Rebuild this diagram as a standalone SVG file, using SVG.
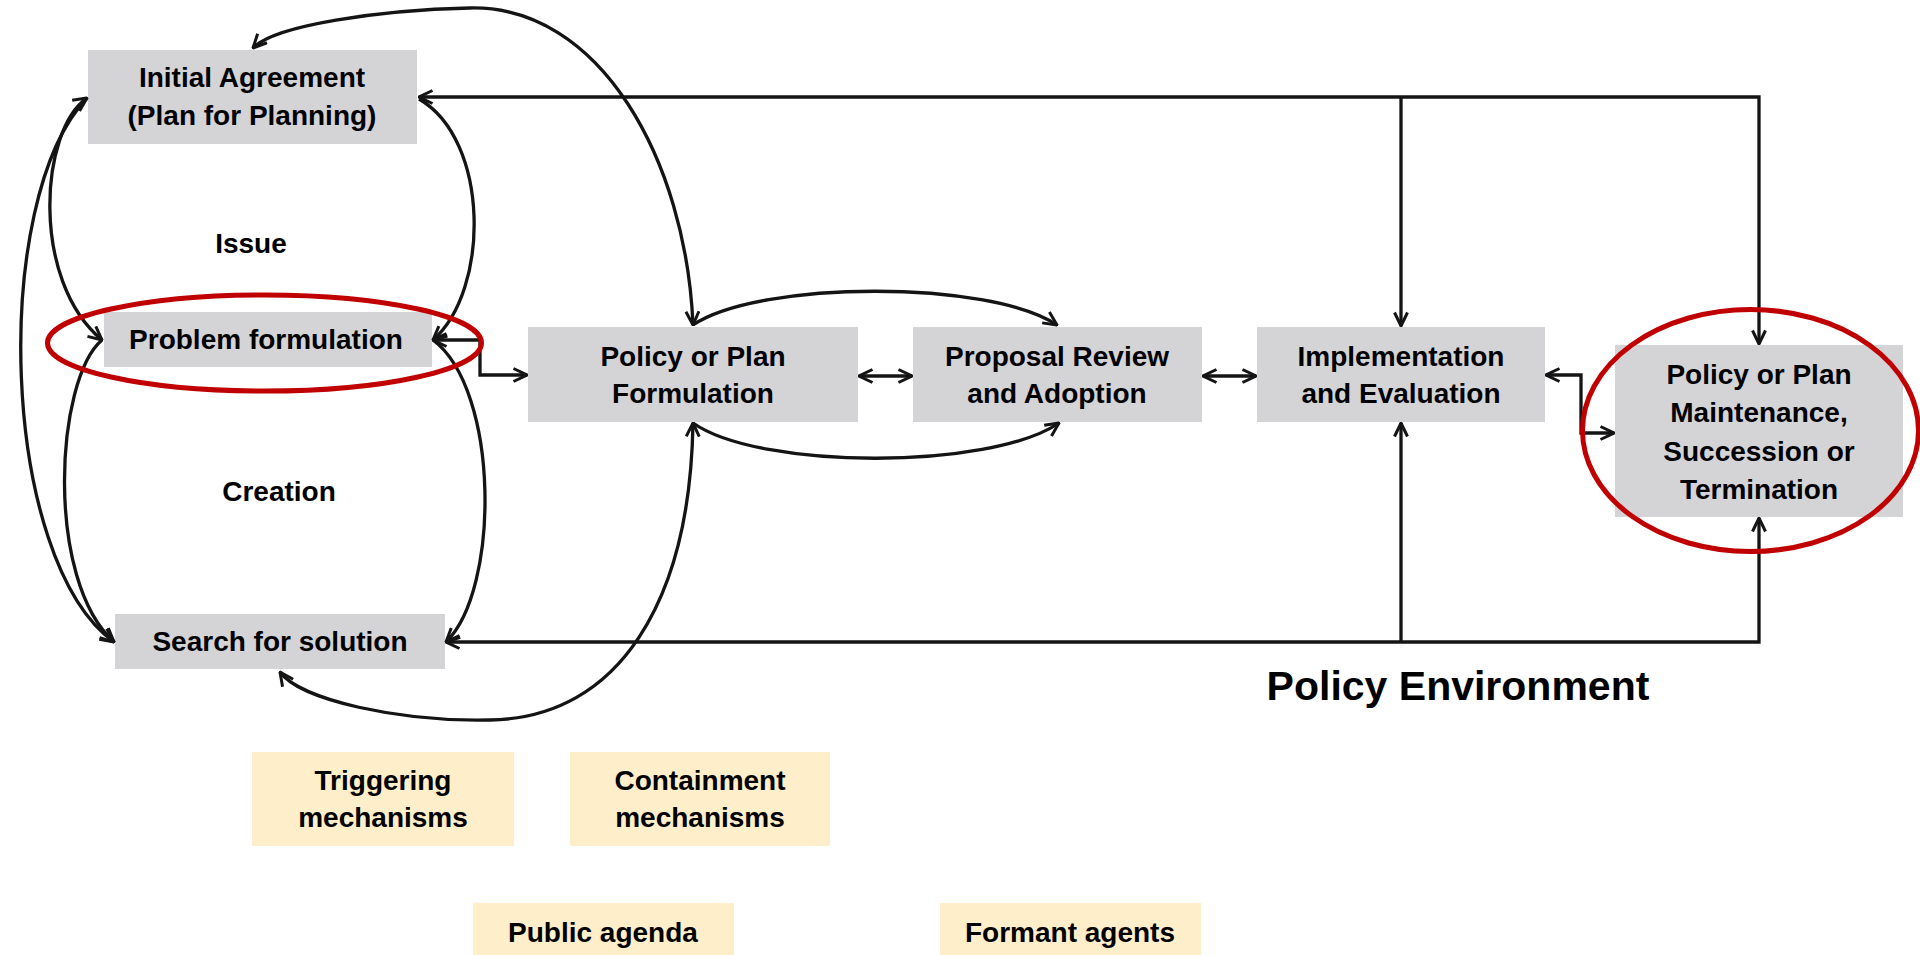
<svg xmlns="http://www.w3.org/2000/svg" width="1920" height="955" viewBox="0 0 1920 955">
<style>
.box{fill:#D4D4D7}
.ybox{fill:#FEEFCA}
.t{font-family:"Liberation Sans",Arial,sans-serif;font-weight:bold;font-size:28px;fill:#000;text-anchor:middle}
.big{font-size:41px}
.c{fill:none;stroke:#141414;stroke-width:3.3}
.hl{fill:none;stroke:#C00000;stroke-width:5}
</style>
<defs>
<marker id="ah" viewBox="0 0 16 16" refX="15" refY="8" markerWidth="16" markerHeight="16" markerUnits="userSpaceOnUse" orient="auto-start-reverse">
<path d="M1.5,1.5 L15,8 L1.5,14.5" fill="none" stroke="#141414" stroke-width="3"/>
</marker>
</defs>
<rect width="1920" height="955" fill="#fff"/>

<g id="initial-agreement"><rect class="box" x="88" y="50" width="329" height="94"/><text class="t" x="252" y="87">Initial Agreement</text><text class="t" x="252" y="125">(Plan for Planning)</text></g>
<g id="problem-formulation"><rect class="box" x="104" y="312" width="328" height="55"/><text class="t" x="266" y="349">Problem formulation</text></g>
<g id="search-solution"><rect class="box" x="115" y="614" width="330" height="55"/><text class="t" x="280" y="651">Search for solution</text></g>
<g id="policy-formulation"><rect class="box" x="528" y="327" width="330" height="95"/><text class="t" x="693" y="366">Policy or Plan</text><text class="t" x="693" y="403">Formulation</text></g>
<g id="proposal-review"><rect class="box" x="913" y="327" width="289" height="95"/><text class="t" x="1057" y="366">Proposal Review</text><text class="t" x="1057" y="403">and Adoption</text></g>
<g id="implementation"><rect class="box" x="1257" y="327" width="288" height="95"/><text class="t" x="1401" y="366">Implementation</text><text class="t" x="1401" y="403">and Evaluation</text></g>
<g id="maintenance"><rect class="box" x="1615" y="345" width="288" height="172"/><text class="t" x="1759" y="384">Policy or Plan</text><text class="t" x="1759" y="422">Maintenance,</text><text class="t" x="1759" y="461">Succession or</text><text class="t" x="1759" y="499">Termination</text></g>

<g id="label-issue"><text class="t" x="251" y="253">Issue</text></g>
<g id="label-creation"><text class="t" x="279" y="501">Creation</text></g>
<g id="label-policy-environment"><text class="t big" x="1458" y="700">Policy Environment</text></g>

<g id="triggering"><rect class="ybox" x="252" y="752" width="262" height="94"/><text class="t" x="383" y="790">Triggering</text><text class="t" x="383" y="827">mechanisms</text></g>
<g id="containment"><rect class="ybox" x="570" y="752" width="260" height="94"/><text class="t" x="700" y="790">Containment</text><text class="t" x="700" y="827">mechanisms</text></g>
<g id="public-agenda"><rect class="ybox" x="473" y="903" width="261" height="52"/><text class="t" x="603" y="942">Public agenda</text></g>
<g id="formant-agents"><rect class="ybox" x="940" y="903" width="261" height="52"/><text class="t" x="1070" y="942">Formant agents</text></g>

<g id="connectors">
<path class="c" d="M1759,344 L1759,97 L419,97" marker-start="url(#ah)" marker-end="url(#ah)"/>
<path class="c" d="M1401,97 L1401,326" marker-end="url(#ah)"/>
<path class="c" d="M1759,518 L1759,642 L446,642" marker-start="url(#ah)" marker-end="url(#ah)"/>
<path class="c" d="M1401,642 L1401,423" marker-end="url(#ah)"/>
<path class="c" d="M1546,375 L1581,375 L1581,433 L1614,433" marker-start="url(#ah)" marker-end="url(#ah)"/>
<path class="c" d="M859,376 L912,376" marker-start="url(#ah)" marker-end="url(#ah)"/>
<path class="c" d="M1203,376 L1256,376" marker-start="url(#ah)" marker-end="url(#ah)"/>
<path class="c" d="M433,340 L480,340 L480,375 L527,375" marker-start="url(#ah)" marker-end="url(#ah)"/>
<path class="c" d="M253,48 C275,25 380,10 470,8 C600,5 686,160 693,325" marker-start="url(#ah)" marker-end="url(#ah)"/>
<path class="c" d="M693,325 C760,280 990,280 1057,325" marker-end="url(#ah)"/>
<path class="c" d="M693,423 C760,470 990,470 1059,423" marker-end="url(#ah)"/>
<path class="c" d="M280,672 C300,700 400,722 490,720 C620,718 690,600 693,423" marker-start="url(#ah)" marker-end="url(#ah)"/>
<path class="c" d="M87,98 C40,130 30,280 102,340" marker-start="url(#ah)" marker-end="url(#ah)"/>
<path class="c" d="M87,98 C-10,200 0,560 114,642" marker-end="url(#ah)"/>
<path class="c" d="M102,340 C55,380 45,580 114,642" marker-end="url(#ah)"/>
<path class="c" d="M419,99 C490,140 490,290 433,340" marker-end="url(#ah)"/>
<path class="c" d="M433,340 C500,390 500,590 446,642" marker-end="url(#ah)"/>
</g>

<g id="highlights">
<ellipse class="hl" cx="264.5" cy="343" rx="217" ry="48"/>
<ellipse class="hl" cx="1750.5" cy="430.5" rx="168" ry="121"/>
</g>
</svg>
